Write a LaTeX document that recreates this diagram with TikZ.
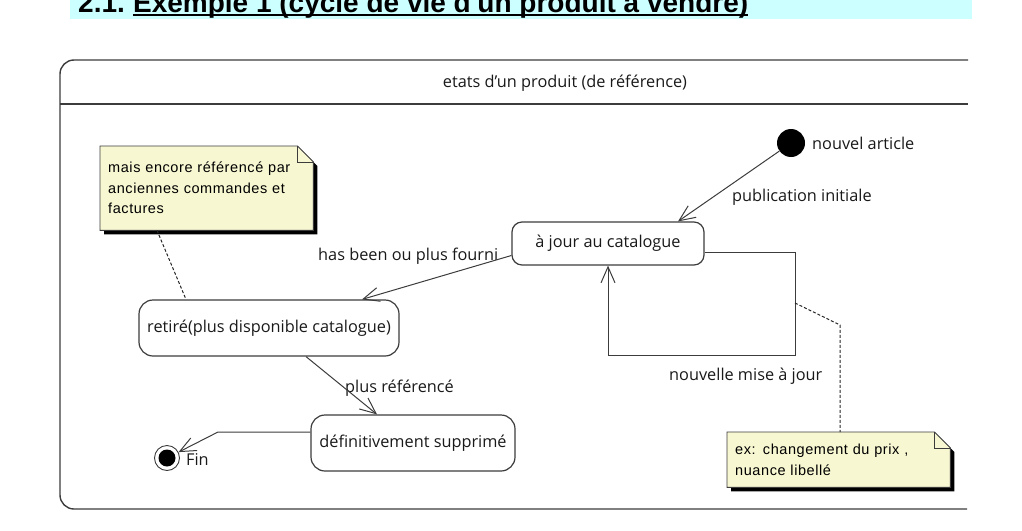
\documentclass[tikz,border=0pt]{standalone}
\usepackage{fontspec}
\setmainfont{Open Sans}
\newfontfamily\notefont[LetterSpace=4]{Liberation Sans}
\newfontfamily\headfont{Liberation Sans}
\usetikzlibrary{
    arrows.meta,
    positioning,
    calc,
    backgrounds
}
\definecolor{notefill}{HTML}{F7F7D2}
\definecolor{headcyan}{HTML}{CCFFFF}
\definecolor{framegray}{HTML}{3C3C3C}
% note with folded corner and shadow, drawn round a node
\newcommand{\dogear}[1]{%
    \fill[black] ([shift={(4pt,-4pt)}]#1.north west) -- ([shift={(-12pt,-4pt)}]#1.north east)
        -- ([shift={(4pt,-20pt)}]#1.north east) -- ([shift={(4pt,-4pt)}]#1.south east)
        -- ([shift={(4pt,-4pt)}]#1.south west) -- cycle;
    \filldraw[fill=notefill, draw=framegray, line width=0.9pt] (#1.north west) -- ([xshift=-16pt]#1.north east)
        -- ([yshift=-16pt]#1.north east) -- (#1.south east) -- (#1.south west) -- cycle;
    \draw[framegray, line width=0.9pt] ([xshift=-16pt]#1.north east) |- ([yshift=-16pt]#1.north east);
}

\begin{document}
\begin{tikzpicture}[x=1pt, y=-1pt,
    ui/.style={font=\fontsize{16.3}{19}\selectfont, text=black!90},
    state/.style={ui, draw=framegray, line width=1.2pt, rounded corners=12pt, inner sep=0pt},
    lbl/.style={ui, anchor=west, inner sep=0pt},
    trans/.style={draw=framegray, line width=1pt, -{Straight Barb[length=16pt, width=14pt]}},
    noteline/.style={draw=black!85, line width=1pt, dash pattern=on 3pt off 2pt},
    note/.style={anchor=north west, inner sep=8pt, align=left,
        font=\notefont\fontsize{14.5}{20.5}\selectfont},
    heading/.style={inner sep=0pt, font=\headfont\bfseries\fontsize{28}{30}\selectfont},
    frame/.style={draw=framegray, line width=1.4pt}]
    \clip (0,0) rectangle (1022,530);

    % heading
    \fill[headcyan] (70,-5) rectangle (972,19);
    \node[heading, anchor=base west] (hnum) at (78,12.5) {2.1.};
    \node[heading, anchor=base west] (htitle) at ([xshift=7.8pt]hnum.base east) {Exemple 1 (cycle de vie d'un produit à vendre)};
    \draw[line width=2pt] ([yshift=-2.5pt]htitle.base west) -- ([yshift=-2.5pt]htitle.base east);

    % frame
    \draw[frame, rounded corners=14pt] (968,60) -- (60,60) -- (60,509) -- (967,509);
    \draw[frame] (60,104) -- (968,104);
    \node[ui] (title) at (565,83) {etats d'un produit (de référence)};

    % states
    \node[circle, fill=black, minimum size=28pt, inner sep=0pt] (init) at (791,143) {};
    \node[state, minimum width=192pt, minimum height=43pt, rounded corners=10pt] (ajour) at (608,243.5) {à jour au catalogue};
    \node[state, minimum width=260pt, minimum height=56pt, rounded corners=14pt] (retire) at (269,328) {retiré(plus disponible catalogue)};
    \node[state, minimum width=204pt, minimum height=56pt, rounded corners=14pt] (suppr) at (413,443) {définitivement supprimé};
    \node[circle, draw=framegray, line width=0.9pt, minimum size=25pt, inner sep=0pt,
        path picture={\fill[black] (path picture bounding box.center) circle (8.5pt);}] (fin) at (167,458) {};

    % notes
    \node[note, text width=197pt, minimum height=84pt] (note1) at (100,146) {mais encore référencé par\\anciennes commandes et\\factures};
    \node[note, text width=207pt, minimum height=55pt] (note2) at (727,432) {ex: changement du prix ,\\nuance libellé};
    \begin{scope}[on background layer]
        \dogear{note1}
        \dogear{note2}
    \end{scope}

    % labels
    \node[lbl] (lnouvel) at (812,143) {nouvel article};
    \node[lbl] (lpubli) at (732,197) {publication initiale};
    \node[lbl] (lfourni) at (318,256) {has been ou plus fourni};
    \node[lbl] (lplusref) at (345,388) {plus référencé};
    \node[lbl] (lmaj) at (669,376) {nouvelle mise à jour};
    \node[lbl] (lfin) at (186,460) {Fin};

    % transitions
    \coordinate (loopc) at (795,355);
    \coordinate (finc) at (218,432);
    \draw[trans] (init) -- ([xshift=70pt]ajour.north);
    \draw[trans] ([yshift=-12pt]ajour.west) -- ([xshift=93pt]retire.north);
    \draw[trans] ([xshift=37pt]retire.south) -- ([xshift=-36pt]suppr.north);
    \draw[trans] ([yshift=11pt]suppr.west) -- (finc) -- (fin);
    \draw[trans] ([yshift=-9pt]ajour.east) -| (loopc) -| (ajour.south);

    % note links
    \coordinate (loopn) at (795,303);
    \coordinate (bend2) at (840,325);
    \draw[noteline] ([xshift=57pt]note1.south west) -- ([xshift=-83pt]retire.north);
    \draw[noteline] (loopn) -- (bend2) -- ([xshift=113pt]note2.north west);
\end{tikzpicture}
\end{document}
